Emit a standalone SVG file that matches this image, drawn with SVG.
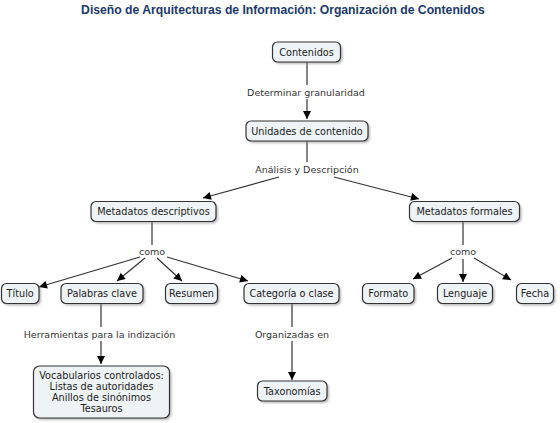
<svg xmlns="http://www.w3.org/2000/svg" width="560" height="423" viewBox="0 0 560 423">
<defs>
<marker id="arr" viewBox="0 0 10 10" refX="10" refY="5" markerWidth="9" markerHeight="8" markerUnits="userSpaceOnUse" orient="auto">
<path d="M0,0 L10,5 L0,10 z" fill="#000"/>
</marker>
<filter id="sh" x="-10%" y="-20%" width="130%" height="160%">
<feGaussianBlur stdDeviation="1"/>
</filter>
</defs>
<style>
.title{font-family:"Liberation Sans",Arial,sans-serif;font-weight:bold;font-size:12.2px;fill:#1b3a6b;text-anchor:middle}
.box{fill:#eef3f6;stroke:#333;stroke-width:1.2}
.shd{fill:#888;opacity:0.6;filter:url(#sh)}
.nt{font-family:"DejaVu Sans",Verdana,sans-serif;font-size:9.7px;fill:#222;text-anchor:middle}
.lt{font-family:"DejaVu Sans",Verdana,sans-serif;font-size:9.5px;fill:#333;text-anchor:middle}
.ln{stroke:#333;stroke-width:1.2;fill:none}
.ar{stroke:#333;stroke-width:1.2;fill:none;marker-end:url(#arr)}
</style>
<rect width="560" height="423" fill="#fff"/>
<text class="title" x="283" y="14">Diseño de Arquitecturas de Información: Organización de Contenidos</text>

<g id="connectors">
<line class="ln" x1="307" y1="62" x2="307" y2="85"/>
<text class="lt" x="306" y="95.5">Determinar granularidad</text>
<line class="ar" x1="307" y1="99" x2="307" y2="119"/>

<line class="ln" x1="307" y1="141" x2="307" y2="162"/>
<text class="lt" x="307" y="172.5">Análisis y Descripción</text>
<line class="ar" x1="279" y1="177" x2="203" y2="198"/>
<line class="ar" x1="334" y1="177" x2="419" y2="199"/>

<line class="ln" x1="152" y1="222" x2="152" y2="245"/>
<text class="lt" x="152" y="255">como</text>
<line class="ar" x1="140" y1="257" x2="39" y2="287"/>
<line class="ar" x1="145" y1="258" x2="117" y2="281"/>
<line class="ar" x1="157" y1="258" x2="182" y2="281"/>
<line class="ar" x1="167" y1="257" x2="248" y2="281"/>

<line class="ln" x1="463" y1="222" x2="463" y2="245"/>
<text class="lt" x="463" y="255">como</text>
<line class="ar" x1="452" y1="258" x2="413" y2="279"/>
<line class="ar" x1="463" y1="259" x2="463" y2="282"/>
<line class="ar" x1="474" y1="258" x2="511" y2="280"/>

<line class="ln" x1="101" y1="304" x2="101" y2="327"/>
<text class="lt" x="99.5" y="338">Herramientas para la indización</text>
<line class="ar" x1="101" y1="341" x2="101" y2="364"/>

<line class="ln" x1="292" y1="304" x2="292" y2="327"/>
<text class="lt" x="292" y="338">Organizadas en</text>
<line class="ar" x1="292" y1="341" x2="292" y2="380"/>
</g>

<g id="n-contenidos">
<rect class="shd" x="274.5" y="44" width="68" height="20" rx="5"/>
<rect class="box" x="272.5" y="42" width="68" height="20" rx="5"/>
<text class="nt" x="306.5" y="55.5">Contenidos</text>
</g>
<g id="n-unidades">
<rect class="shd" x="248" y="123" width="122" height="20" rx="5"/>
<rect class="box" x="246" y="121" width="122" height="20" rx="5"/>
<text class="nt" x="307" y="134.5">Unidades de contenido</text>
</g>
<g id="n-md">
<rect class="shd" x="93" y="203.5" width="125" height="20" rx="5"/>
<rect class="box" x="91" y="201.5" width="125" height="20" rx="5"/>
<text class="nt" x="153.5" y="215">Metadatos descriptivos</text>
</g>
<g id="n-mf">
<rect class="shd" x="411.5" y="203.5" width="110" height="20" rx="5"/>
<rect class="box" x="409.5" y="201.5" width="110" height="20" rx="5"/>
<text class="nt" x="464.5" y="215">Metadatos formales</text>
</g>
<g id="n-titulo">
<rect class="shd" x="3.5" y="285.5" width="37.5" height="20" rx="5"/>
<rect class="box" x="1.5" y="283.5" width="37.5" height="20" rx="5"/>
<text class="nt" x="20.2" y="297">Título</text>
</g>
<g id="n-palabras">
<rect class="shd" x="63" y="285.5" width="82" height="20" rx="5"/>
<rect class="box" x="61" y="283.5" width="82" height="20" rx="5"/>
<text class="nt" x="102" y="297">Palabras clave</text>
</g>
<g id="n-resumen">
<rect class="shd" x="167.5" y="285.5" width="52" height="20" rx="5"/>
<rect class="box" x="165.5" y="283.5" width="52" height="20" rx="5"/>
<text class="nt" x="191.5" y="297">Resumen</text>
</g>
<g id="n-categoria">
<rect class="shd" x="246" y="285.5" width="95" height="20" rx="5"/>
<rect class="box" x="244" y="283.5" width="95" height="20" rx="5"/>
<text class="nt" x="291.5" y="297">Categoría o clase</text>
</g>
<g id="n-formato">
<rect class="shd" x="364.5" y="285.5" width="51.5" height="20" rx="5"/>
<rect class="box" x="362.5" y="283.5" width="51.5" height="20" rx="5"/>
<text class="nt" x="388.2" y="297">Formato</text>
</g>
<g id="n-lenguaje">
<rect class="shd" x="439.5" y="285.5" width="55" height="20" rx="5"/>
<rect class="box" x="437.5" y="283.5" width="55" height="20" rx="5"/>
<text class="nt" x="465" y="297">Lenguaje</text>
</g>
<g id="n-fecha">
<rect class="shd" x="518.5" y="285.5" width="37" height="20" rx="5"/>
<rect class="box" x="516.5" y="283.5" width="37" height="20" rx="5"/>
<text class="nt" x="535" y="297">Fecha</text>
</g>
<g id="n-vocab">
<rect class="shd" x="35.5" y="368" width="136" height="52" rx="6"/>
<rect class="box" x="33.5" y="366" width="136" height="52" rx="6"/>
<text class="nt" x="101.5" y="379">Vocabularios controlados:</text>
<text class="nt" x="101.5" y="390">Listas de autoridades</text>
<text class="nt" x="101.5" y="401">Anillos de sinónimos</text>
<text class="nt" x="101.5" y="412">Tesauros</text>
</g>
<g id="n-taxonomias">
<rect class="shd" x="259.5" y="383" width="69.5" height="20" rx="5"/>
<rect class="box" x="257.5" y="381" width="69.5" height="20" rx="5"/>
<text class="nt" x="292.2" y="394.5">Taxonomías</text>
</g>
</svg>
